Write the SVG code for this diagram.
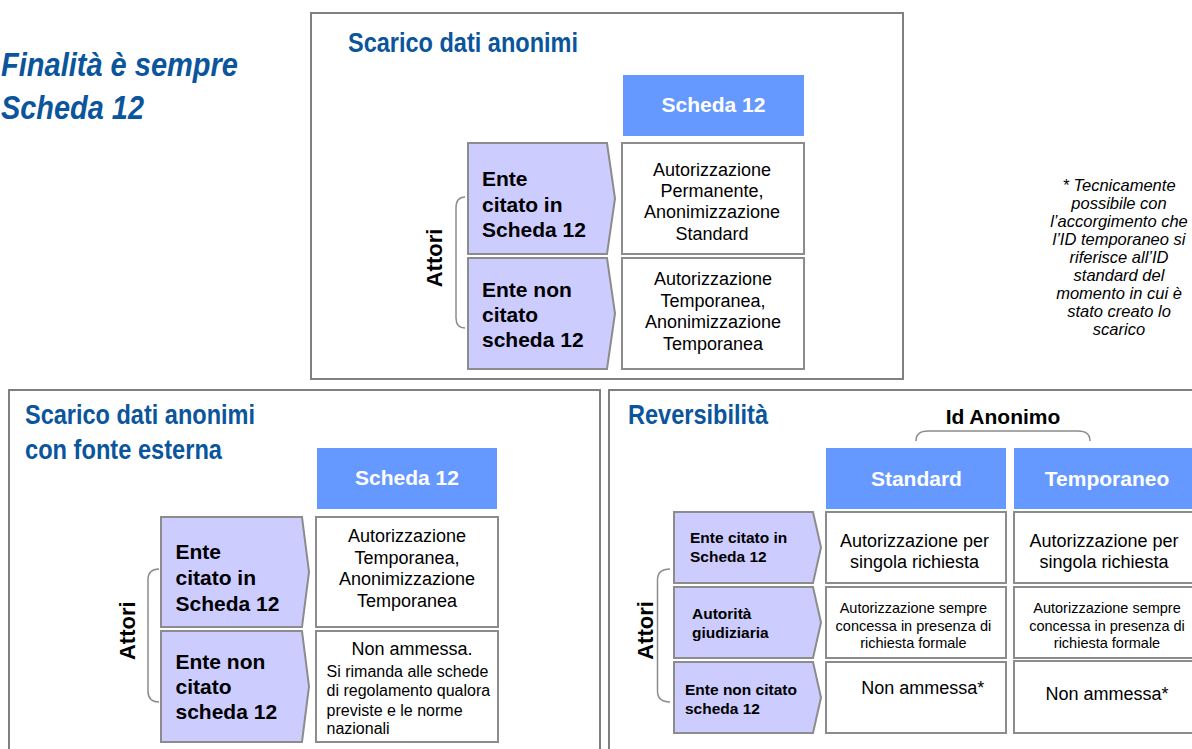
<svg xmlns="http://www.w3.org/2000/svg" width="1192" height="749" viewBox="0 0 1192 749">
<style>
.frame{fill:#fff;stroke:#808080;stroke-width:2}
.hdr{fill:#6699ff}
.hdrt{font-family:"Liberation Sans",Arial,sans-serif;font-weight:bold;font-size:21px;fill:#fff;text-anchor:middle}
.chev{fill:#ccccff;stroke:#8c8c8c;stroke-width:2}
.cell{fill:#fff;stroke:#8c8c8c;stroke-width:2}
.title{font-family:"Liberation Sans",Arial,sans-serif;font-weight:bold;font-size:28px;fill:#0b559c}
.big{font-family:"Liberation Sans",Arial,sans-serif;font-weight:bold;font-size:21px;fill:#000}
.sm{font-family:"Liberation Sans",Arial,sans-serif;font-weight:bold;font-size:15.5px;fill:#000}
.ct{font-family:"Liberation Sans",Arial,sans-serif;font-size:18px;fill:#000;text-anchor:middle}
.cs{font-family:"Liberation Sans",Arial,sans-serif;font-size:14.5px;fill:#000;text-anchor:middle}
.cl{font-family:"Liberation Sans",Arial,sans-serif;font-size:16px;fill:#000}
.att{font-family:"Liberation Sans",Arial,sans-serif;font-weight:bold;font-size:22px;fill:#000;text-anchor:middle}
.brace{fill:none;stroke:#8c8c8c;stroke-width:1.5}
.note{font-family:"Liberation Sans",Arial,sans-serif;font-style:italic;font-size:16.5px;fill:#000;text-anchor:middle}
</style>

<g id="heading">
<text x="1" y="76" font-family="Liberation Sans, Arial, sans-serif" font-weight="bold" font-style="italic" font-size="33" fill="#0b559c" textLength="237" lengthAdjust="spacingAndGlyphs">Finalità è sempre</text>
<text x="1" y="119" font-family="Liberation Sans, Arial, sans-serif" font-weight="bold" font-style="italic" font-size="33" fill="#0b559c" textLength="143" lengthAdjust="spacingAndGlyphs">Scheda 12</text>
</g>

<g id="note">
<text class="note" x="1119" y="190.5">* Tecnicamente</text>
<text class="note" x="1119" y="208.6">possibile con</text>
<text class="note" x="1119" y="226.7">l’accorgimento che</text>
<text class="note" x="1119" y="244.8">l’ID temporaneo si</text>
<text class="note" x="1119" y="262.9">riferisce all’ID</text>
<text class="note" x="1119" y="281">standard del</text>
<text class="note" x="1119" y="299.1">momento in cui è</text>
<text class="note" x="1119" y="317.2">stato creato lo</text>
<text class="note" x="1119" y="335.3">scarico</text>
</g>

<!-- Panel 1: Scarico dati anonimi -->
<g id="panel-top">
<rect class="frame" x="311" y="13" width="592" height="366"/>
<text class="title" x="348" y="52" textLength="230" lengthAdjust="spacingAndGlyphs">Scarico dati anonimi</text>
</g>
<g id="p1-header">
<rect class="hdr" x="623" y="75" width="181" height="61"/>
<text class="hdrt" x="713.5" y="112">Scheda 12</text>
</g>
<g id="p1-actor1">
<path class="chev" d="M468,143 L607,143 L615,198.5 L607,254 L468,254 Z"/>
<text class="big" x="482" y="186">Ente</text>
<text class="big" x="482" y="211.7">citato in</text>
<text class="big" x="482" y="237.3">Scheda 12</text>
</g>
<g id="p1-actor2">
<path class="chev" d="M468,258 L607,258 L615,313.5 L607,369 L468,369 Z"/>
<text class="big" x="482" y="296.7">Ente non</text>
<text class="big" x="482" y="321.7">citato</text>
<text class="big" x="482" y="346.7">scheda 12</text>
</g>
<g id="p1-cell1">
<rect class="cell" x="622" y="143" width="182" height="111"/>
<text class="ct" x="712" y="175.7">Autorizzazione</text>
<text class="ct" x="712" y="197">Permanente,</text>
<text class="ct" x="712" y="218.3">Anonimizzazione</text>
<text class="ct" x="712" y="240">Standard</text>
</g>
<g id="p1-cell2">
<rect class="cell" x="622" y="258" width="182" height="111"/>
<text class="ct" x="713" y="285">Autorizzazione</text>
<text class="ct" x="713" y="306.7">Temporanea,</text>
<text class="ct" x="713" y="328.3">Anonimizzazione</text>
<text class="ct" x="713" y="350">Temporanea</text>
</g>
<g id="p1-attori">
<path class="brace" d="M465,197 Q456,197 456,208 L456,318 Q456,328 465,328"/>
<text class="att" x="442" y="258" transform="rotate(-90 442 258)">Attori</text>
</g>

<!-- Panel 2: Scarico dati anonimi con fonte esterna -->
<g id="panel-left">
<rect class="frame" x="9" y="390" width="591" height="370"/>
<text class="title" x="25" y="424.3" textLength="230" lengthAdjust="spacingAndGlyphs">Scarico dati anonimi</text>
<text class="title" x="25" y="459" textLength="197" lengthAdjust="spacingAndGlyphs">con fonte esterna</text>
</g>
<g id="p2-header">
<rect class="hdr" x="317" y="448" width="180" height="61"/>
<text class="hdrt" x="407" y="485">Scheda 12</text>
</g>
<g id="p2-actor1">
<path class="chev" d="M161,517 L302,517 L309,572 L302,627 L161,627 Z"/>
<text class="big" x="175.5" y="559">Ente</text>
<text class="big" x="175.5" y="585">citato in</text>
<text class="big" x="175.5" y="611">Scheda 12</text>
</g>
<g id="p2-actor2">
<path class="chev" d="M161,631 L302,631 L309,686.5 L302,742 L161,742 Z"/>
<text class="big" x="175.5" y="669.3">Ente non</text>
<text class="big" x="175.5" y="694.3">citato</text>
<text class="big" x="175.5" y="719.3">scheda 12</text>
</g>
<g id="p2-cell1">
<rect class="cell" x="316" y="517" width="182" height="110"/>
<text class="ct" x="407" y="541.7">Autorizzazione</text>
<text class="ct" x="407" y="564">Temporanea,</text>
<text class="ct" x="407" y="585.3">Anonimizzazione</text>
<text class="ct" x="407" y="606.7">Temporanea</text>
</g>
<g id="p2-cell2">
<rect class="cell" x="316" y="631" width="182" height="111"/>
<text class="ct" x="412" y="655">Non ammessa.</text>
<text class="cl" x="326.5" y="677.3">Si rimanda alle schede</text>
<text class="cl" x="326.5" y="696.3">di regolamento qualora</text>
<text class="cl" x="326.5" y="715.7">previste e le norme</text>
<text class="cl" x="326.5" y="734.3">nazionali</text>
</g>
<g id="p2-attori">
<path class="brace" d="M159,569 Q148,569 148,580 L148,691 Q148,702 159,702"/>
<text class="att" x="135" y="630.7" transform="rotate(-90 135 630.7)">Attori</text>
</g>

<!-- Panel 3: Reversibilità -->
<g id="panel-right">
<rect class="frame" x="609" y="390" width="600" height="370"/>
<text class="title" x="628" y="424.3" textLength="140" lengthAdjust="spacingAndGlyphs">Reversibilità</text>
</g>
<g id="p3-idanonimo">
<text class="big" x="1003" y="424.3" text-anchor="middle">Id Anonimo</text>
<path class="brace" d="M916,441 Q916,431 928,431 L1078,431 Q1090,431 1090,441"/>
</g>
<g id="p3-header-standard">
<rect class="hdr" x="826" y="448" width="180" height="61"/>
<text class="hdrt" x="916.4" y="485.7">Standard</text>
</g>
<g id="p3-header-temporaneo">
<rect class="hdr" x="1014" y="448" width="190" height="61"/>
<text class="hdrt" x="1107" y="485.7">Temporaneo</text>
</g>
<g id="p3-actor1">
<path class="chev" d="M674,512 L813,512 L821,547.5 L813,583 L674,583 Z"/>
<text class="sm" x="690" y="542.7">Ente citato in</text>
<text class="sm" x="690" y="561.7">Scheda 12</text>
</g>
<g id="p3-actor2">
<path class="chev" d="M674,587 L813,587 L821,622.5 L813,658 L674,658 Z"/>
<text class="sm" x="692" y="619">Autorità</text>
<text class="sm" x="692" y="638.3">giudiziaria</text>
</g>
<g id="p3-actor3">
<path class="chev" d="M674,662 L813,662 L821,697.5 L813,733 L674,733 Z"/>
<text class="sm" x="685" y="695">Ente non citato</text>
<text class="sm" x="685" y="714.3">scheda 12</text>
</g>
<g id="p3-std-row1">
<rect class="cell" x="826" y="512" width="180" height="71"/>
<text class="ct" x="914.5" y="546.7">Autorizzazione per</text>
<text class="ct" x="914.5" y="568.3">singola richiesta</text>
</g>
<g id="p3-std-row2">
<rect class="cell" x="826" y="587" width="180" height="71"/>
<text class="cs" x="913.4" y="612.7">Autorizzazione sempre</text>
<text class="cs" x="913.4" y="630.7">concessa in presenza di</text>
<text class="cs" x="913.4" y="647.7">richiesta formale</text>
</g>
<g id="p3-std-row3">
<rect class="cell" x="826" y="662" width="180" height="71"/>
<text class="ct" x="922.8" y="694.3">Non ammessa*</text>
</g>
<g id="p3-tmp-row1">
<rect class="cell" x="1014" y="512" width="190" height="71"/>
<text class="ct" x="1104" y="546.7">Autorizzazione per</text>
<text class="ct" x="1104" y="568.3">singola richiesta</text>
</g>
<g id="p3-tmp-row2">
<rect class="cell" x="1014" y="587" width="190" height="71"/>
<text class="cs" x="1107" y="612.7">Autorizzazione sempre</text>
<text class="cs" x="1107" y="630.7">concessa in presenza di</text>
<text class="cs" x="1107" y="647.7">richiesta formale</text>
</g>
<g id="p3-tmp-row3">
<rect class="cell" x="1014" y="661" width="190" height="72"/>
<text class="ct" x="1107" y="700">Non ammessa*</text>
</g>
<g id="p3-attori">
<path class="brace" d="M670,569 Q657.5,569 657.5,580 L657.5,691 Q657.5,702 670,702"/>
<text class="att" x="653" y="630.5" transform="rotate(-90 653 630.5)">Attori</text>
</g>
<g id="connectors"></g>
</svg>
